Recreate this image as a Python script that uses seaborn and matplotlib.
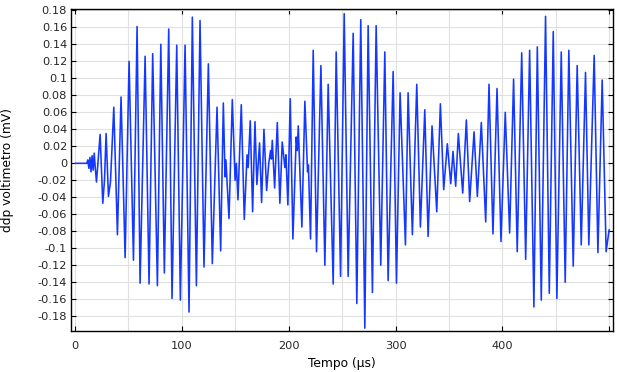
import matplotlib
matplotlib.use("Agg")
import matplotlib.pyplot as plt
import seaborn as sns
import pandas as pd
from matplotlib.ticker import FixedLocator

# ---- data (extremes of each oscillation) ----
tempo_us = [
    0, 11, 12, 13, 14, 15, 16, 17, 18, 19,
    20.1, 23.5, 26.0, 27.6, 29.1, 31.3, 33.2, 36.3, 39.7, 43.1,
    46.9, 50.6, 54.7, 58.1, 60.9, 65.6, 69.3, 72.7, 77.1, 80.3,
    83.6, 87.7, 90.8, 95.2, 98.6, 103.0, 106.7, 109.8, 113.6, 117.0,
    120.7, 124.8, 128.5, 132.9, 136.3, 138.8, 140.4, 141.2, 144.1, 147.2,
    149.8, 151.0, 152.5, 155.6, 158.4, 161.0, 162.0, 164.0, 166.2, 168.4,
    170.2, 172.7, 174.6, 176.8, 179.3, 181.3, 183.0, 183.8, 184.6, 186.8,
    189.3, 191.7, 193.9, 196.4, 197.4, 199.2, 201.4, 203.9, 207.0, 208.0,
    208.9, 212.3, 215.1, 217.6, 218.4, 220.4, 222.9, 226.0, 230.1, 233.8,
    236.9, 241.6, 244.4, 248.5, 251.9, 255.6, 260.3, 263.7, 267.4, 271.2,
    274.3, 278.3, 281.8, 286.1, 289.9, 293.0, 297.7, 300.8, 304.2, 309.2,
    311.7, 315.7, 319.8, 323.2, 327.3, 330.4, 334.1, 338.5, 341.9, 345.0,
    348.4, 351.6, 353.7, 356.2, 358.7, 362.8, 366.2, 369.3, 373.4, 376.5,
    380.2, 384.3, 387.4, 391.1, 394.9, 398.6, 402.6, 406.7, 410.4, 413.8,
    418.0, 421.7, 425.4, 429.4, 432.6, 436.3, 440.3, 443.8, 447.5, 450.9,
    455.0, 458.7, 462.1, 466.2, 469.9, 473.7, 477.7, 480.8, 485.8, 489.3,
    493.3, 497.0, 499.8,
]
ddp_mV = [
    0.0, 0.0, 0.004, -0.006, 0.007, -0.010, 0.009, -0.008, 0.012, -0.006,
    -0.022, 0.034, -0.047, -0.020, 0.035, -0.039, -0.022, 0.066, -0.084, 0.078,
    -0.111, 0.120, -0.114, 0.161, -0.141, 0.126, -0.142, 0.129, -0.144, 0.140,
    -0.129, 0.158, -0.159, 0.139, -0.161, 0.139, -0.175, 0.172, -0.144, 0.168,
    -0.122, 0.117, -0.118, 0.066, -0.103, 0.071, -0.016, 0.004, -0.065, 0.075,
    -0.020, 0.000, -0.043, 0.069, -0.066, 0.010, -0.005, 0.050, -0.057, 0.049,
    -0.025, 0.024, -0.046, 0.040, -0.032, 0.000, 0.015, 0.005, 0.027, -0.029,
    0.048, -0.047, 0.025, -0.005, 0.010, -0.049, 0.076, -0.089, 0.031, 0.015,
    0.044, -0.075, 0.073, -0.010, -0.002, -0.089, 0.133, -0.104, 0.115, -0.120,
    0.093, -0.142, 0.131, -0.133, 0.176, -0.133, 0.153, -0.165, 0.169, -0.194,
    0.162, -0.152, 0.162, -0.120, 0.131, -0.138, 0.108, -0.141, 0.083, -0.096,
    0.083, -0.084, 0.093, -0.075, 0.063, -0.086, 0.044, -0.057, 0.070, -0.031,
    0.023, -0.024, 0.014, -0.027, 0.035, -0.035, 0.051, -0.045, 0.037, -0.039,
    0.048, -0.069, 0.093, -0.083, 0.088, -0.092, 0.060, -0.082, 0.099, -0.104,
    0.130, -0.113, 0.133, -0.169, 0.137, -0.161, 0.173, -0.153, 0.155, -0.159,
    0.131, -0.140, 0.133, -0.121, 0.115, -0.096, 0.107, -0.096, 0.127, -0.105,
    0.098, -0.104, -0.078,
]

x_ticks = [0, 100, 200, 300, 400, 500]
x_tick_labels = ["0", "100", "200", "300", "400", ""]
x_minor = [50, 150, 250, 350, 450]
y_ticks = [0.18, 0.16, 0.14, 0.12, 0.1, 0.08, 0.06, 0.04, 0.02, 0,
           -0.02, -0.04, -0.06, -0.08, -0.1, -0.12, -0.14, -0.16, -0.18]
y_tick_labels = ["0.18", "0.16", "0.14", "0.12", "0.1", "0.08", "0.06", "0.04", "0.02", "0",
                 "-0.02", "-0.04", "-0.06", "-0.08", "-0.1", "-0.12", "-0.14", "-0.16", "-0.18"]

df = pd.DataFrame({"t": tempo_us, "v": ddp_mV})

sns.set_theme(style="whitegrid")
plt.rcParams["font.family"] = ["DejaVu Sans"]

fig = plt.figure(figsize=(6.17, 3.72), dpi=100)
ax = fig.add_axes([71 / 617, 41 / 372, 542.3 / 617, 321.7 / 372])
ax.set_facecolor("white")

sns.lineplot(data=df, x="t", y="v", sort=False, estimator=None,
             color="#1438ff", linewidth=1.15, ax=ax)

ax.set_xlim(-3.74, 503.7)
ax.set_ylim(-0.1973, 0.1812)

ax.set_xticks(x_ticks)
ax.set_xticklabels(x_tick_labels)
ax.xaxis.set_minor_locator(FixedLocator(x_minor))
ax.set_yticks(y_ticks)
ax.set_yticklabels(y_tick_labels)

ax.grid(True, which="both", color="#e0e0e0", linewidth=0.8)
ax.set_axisbelow(True)

ax.tick_params(axis="both", which="major", direction="in", length=3.5, width=0.8,
               color="black", labelsize=8.2, top=True, right=True,
               bottom=True, left=True)
ax.tick_params(axis="x", which="major", pad=7.3)
ax.tick_params(axis="y", which="major", pad=2.8)
ax.tick_params(axis="x", which="minor", length=0, bottom=False, top=False)

for s in ax.spines.values():
    s.set_visible(True)
    s.set_color("black")
    s.set_linewidth(1.0)

ax.set_xlabel("Tempo (µs)", fontsize=8.8, color="black")
ax.set_ylabel("ddp voltimetro (mV)", fontsize=8.8, color="black")
ax.xaxis.set_label_coords(0.5, -0.0808)
ax.yaxis.set_label_coords(-0.1055, 0.5)

fig.savefig("out.png", dpi=100)
